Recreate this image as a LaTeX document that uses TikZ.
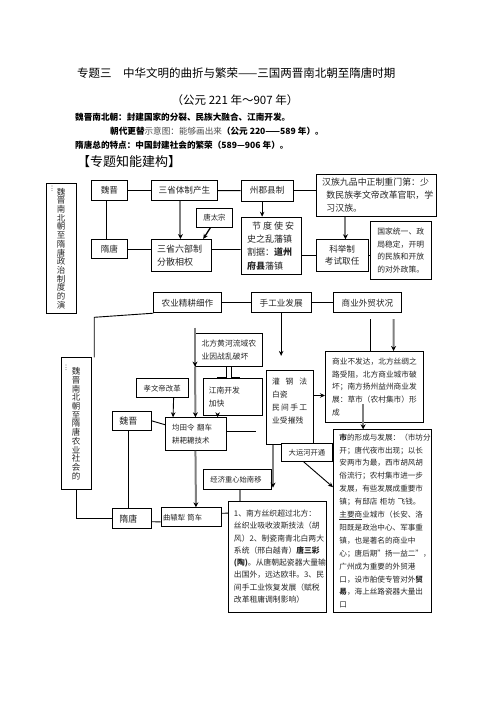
\documentclass[tikz,border=0pt]{standalone}
\usepackage{fontspec}
\setmainfont{Noto Sans CJK SC}
\usetikzlibrary{arrows.meta}

\begin{document}
\begin{tikzpicture}[x=1pt, y=-1pt,
    cadre/.style={draw, line width=0.9pt, fill=white, anchor=north west,
                  inner ysep=0pt, inner xsep=5pt, text=black!85},
    fleche/.style={-{Stealth[length=5pt,width=4.5pt]}, line width=0.9pt},
    fgris/.style={-{Stealth[length=5pt,width=5pt,color=black]}, draw=gray, line width=2pt},
    trait/.style={line width=0.9pt},
    titre/.style={anchor=west, inner sep=0pt}
]
    \useasboundingbox (0,0) rectangle (496,702);

    % en-tete
    \node[titre, font=\fontsize{11.5}{12}\selectfont] (titre) at (77,73) {专题三\quad 中华文明的曲折与繁荣——三国两晋南北朝至隋唐时期};
    \node[inner sep=0pt, font=\fontsize{11.5}{12}\selectfont] (dates) at (235,100) {（公元 221 年～907 年）};
    \node[titre, font=\fontsize{8.6}{9}\selectfont\bfseries] (ligneA) at (75,117) {魏晋南北朝：封建国家的分裂、民族大融合、江南开发。};
    \node[titre, font=\fontsize{8.6}{9}\selectfont] (ligneB) at (110,131) {{\bfseries 朝代更替}\textcolor{black!70}{示意图：能够画出来}{\bfseries （公元 220——589 年）。}};
    \node[titre, font=\fontsize{8.6}{9}\selectfont\bfseries] (ligneC) at (75,145) {隋唐总的特点：中国封建社会的繁荣（589—906 年）。};
    \node[titre, font=\fontsize{13}{14}\selectfont] (rubrique) at (77,162) {【专题知能建构】};

    % politique
    \node[cadre, minimum width=30pt, minimum height=130pt, inner xsep=0pt, align=center,
          font=\fontsize{8.5}{8.7}\selectfont] (zhengzhi) at (45.7,183)
          {魏\\晋\\南\\北\\朝\\至\\隋\\唐\\政\\治\\制\\度\\的\\演};
    \node[inner sep=0pt, font=\fontsize{7}{7}\selectfont] (pointsA) at (52,189) {︙};
    \node[cadre, minimum width=36.6pt, minimum height=20pt, font=\fontsize{8.6}{10}\selectfont] (weijinA) at (90.7,180) {魏晋};
    \node[cadre, minimum width=66.6pt, minimum height=20pt, font=\fontsize{8.6}{10}\selectfont] (sanshengA) at (150.7,180) {三省体制产生};
    \node[cadre, minimum width=52pt, minimum height=20.5pt, font=\fontsize{8.6}{10}\selectfont] (zhoujun) at (240.7,180) {州郡县制};
    \node[cadre, minimum height=42pt, text width=108pt, inner xsep=6pt, align=left,
          font=\fontsize{8.9}{12.9}\selectfont] (hanzu) at (315.7,174)
          {汉族九品中正制重门第：少\\\hspace*{4.3pt}数民族孝文帝改革官职，学\\\hspace*{4.3pt}习汉族。};
    \node[cadre, minimum width=36.6pt, minimum height=19pt, font=\fontsize{7.4}{8}\selectfont] (taizong) at (195.7,207.7) {唐太宗};
    \node[cadre, minimum width=36.6pt, minimum height=19.3pt, font=\fontsize{8.6}{10}\selectfont] (suitangA) at (90.7,239) {隋唐};
    \node[cadre, minimum height=32pt, text width=48pt, inner xsep=6pt, align=left,
          font=\fontsize{9}{12.7}\selectfont] (sanshengB) at (150.7,239) {三省六部制\\分散相权};
    \node[cadre, minimum height=57.3pt, text width=48pt, inner xsep=6pt, align=left,
          font=\fontsize{9}{13.3}\selectfont] (jiedushi) at (240.7,216.7)
          {\hspace*{5pt}节\hspace{2pt}度\hspace{2pt}使\hspace{2pt}安\\史之乱藩镇\\割据：{\bfseries 道州}\\{\bfseries 府县}藩镇};
    \node[cadre, minimum width=52pt, minimum height=31.7pt, align=center,
          font=\fontsize{8.6}{12}\selectfont] (keju) at (315.7,239.3) {科举制\\考试取任};
    \node[cadre, minimum height=58.3pt, text width=47pt, inner xsep=6.85pt, align=left,
          font=\fontsize{7.8}{12.4}\selectfont] (guojia) at (370,221)
          {国家统一、政\\局稳定，开明\\的民族和开放\\的对外政策。};

    \draw[trait] (weijinA) -- (sanshengA);
    \draw[trait] (sanshengA) -- (zhoujun);
    \draw[trait] (zhoujun.east) -- (zhoujun.east -| hanzu.west);
    \draw[trait] ([xshift=-3pt]weijinA.south) -- ([xshift=-3pt]suitangA.north);
    \draw[trait] (suitangA.east) -- (suitangA.east -| sanshengB.west);
    \draw[trait] ([yshift=6pt]sanshengB.east) -- ([yshift=-3.7pt]jiedushi.west);
    \draw[fgris] ([xshift=-4pt]sanshengA.south) -- ([xshift=-0.7pt]sanshengB.north);
    \draw[fleche, line width=1.3pt] ([xshift=-4pt]taizong.south) -- ([xshift=-8.4pt]sanshengB.north east);
    \draw[fleche] ([xshift=-5pt]zhoujun.south) -- ([xshift=-9pt]jiedushi.north);
    \draw[fgris] ([xshift=-30.7pt]hanzu.south) -- ([xshift=3.3pt]keju.north);
    \draw[trait] (keju.west) -- (keju.west -| jiedushi.east);
    \draw[trait] (keju.east) -- (keju.east -| guojia.west);

    % economie
    \node[cadre, minimum width=67.4pt, minimum height=20pt, font=\fontsize{8.6}{10}\selectfont] (nongye) at (153.3,292.3) {农业精耕细作};
    \node[cadre, minimum width=60pt, minimum height=20pt, font=\fontsize{8.6}{10}\selectfont] (shougong) at (250.7,292.3) {手工业发展};
    \node[cadre, minimum width=67.4pt, minimum height=20pt, font=\fontsize{8.6}{10}\selectfont] (shangyeA) at (333.3,292.3) {商业外贸状况};

    \node[cadre, minimum width=30pt, minimum height=131.7pt, inner xsep=0pt, align=center,
          font=\fontsize{8.5}{8.7}\selectfont] (nongshe) at (60.7,357.3)
          {魏\\晋\\南\\北\\朝\\至\\隋\\唐\\农\\业\\社\\会\\的};
    \node[inner sep=0pt, font=\fontsize{7}{7}\selectfont] (pointsB) at (66,368) {︙};

    % double fleche entre les deux cadres
    \draw[trait] (217.3,366.5) -- (226.7,366.5) -- (226.7,377.7) -- (217.3,377.7);
    \draw[trait] (240,366.5) -- (231.7,366.5) -- (231.7,377.7) -- (240,377.7);

    \node[cadre, minimum height=32.4pt, text width=55pt, inner xsep=6.15pt, align=left,
          font=\fontsize{7.8}{13}\selectfont] (beifang) at (195,333.3) {北方黄河流域农\\业因战乱破坏};
    \node[cadre, minimum width=52pt, minimum height=19pt, font=\fontsize{7.4}{8}\selectfont] (xiaowen) at (135.7,378.3) {孝文帝改革};
    \node[cadre, minimum height=36.7pt, text width=47.8pt, inner xsep=5.6pt, align=left,
          font=\fontsize{7.8}{13.4}\selectfont] (jiangnan) at (202.7,378.3) {江南开发\\加快};
    \node[cadre, minimum height=19.3pt, text width=25pt, inner xsep=6.7pt, align=left,
          font=\fontsize{9}{10}\selectfont] (weijinB) at (112.3,410.7) {魏晋};
    \node[cadre, minimum height=32.7pt, text width=47.6pt, inner xsep=6.4pt, align=left,
          font=\fontsize{7.5}{12.3}\selectfont] (juntian) at (165.3,417.3) {均田令 翻车\\耕耙耱技术};
    \node[cadre, minimum height=74pt, text width=35.6pt, inner xsep=6pt, align=left,
          font=\fontsize{7.8}{12.9}\selectfont] (guangang) at (265.7,370)
          {灌\hspace{5.8pt}钢\hspace{5.8pt}法\\白瓷\\民\hspace{1.3pt}间\hspace{1.3pt}手\hspace{1.3pt}工\\业受摧残\\\mbox{}};
    \node[cadre, minimum height=70.7pt, text width=85pt, inner xsep=6.65pt, align=left,
          font=\fontsize{7.7}{12.7}\selectfont] (shangyeB) at (325,351)
          {商业不发达，北方丝绸之\\路受阻，北方商业城市破\\坏；南方扬州益州商业发\\展：草市（农村集市）形\\成};
    \node[cadre, minimum height=182.4pt, text width=85.7pt, inner xsep=6pt, align=left,
          font=\fontsize{7.6}{12.9}\selectfont] (shi) at (333,429.3)
          {{\bfseries 市}的形成与发展：（市坊分\\开；唐代夜市出现；以长\\安两市为最，西市胡风胡\\俗流行；农村集市进一步\\发展，有些发展成重要市\\镇；有邸店 柜坊 飞钱。\\\underline{主要商}业城市（长安、洛\\阳既是政治中心、军事重\\镇，也是著名的商业中\\心；唐后期"扬一益二"，\\广州成为重要的外贸港\\口，设市舶使专管对外{\bfseries 贸}\\{\bfseries 易}，海上丝路瓷器大量出\\口};
    \node[cadre, minimum width=51pt, minimum height=18.3pt, font=\fontsize{7.3}{8}\selectfont] (yunhe) at (281,442.7) {大运河开通};
    \node[cadre, minimum height=20pt, text width=54pt, inner xsep=6.7pt, align=left,
          font=\fontsize{7.3}{8}\selectfont] (zhongxin) at (203.3,469.3) {经济重心始南移};
    \node[cadre, minimum height=20pt, text width=25pt, inner xsep=6.7pt, align=left,
          font=\fontsize{9}{10}\selectfont] (suitangB) at (112.3,508.3) {隋唐};
    \node[cadre, minimum height=19pt, text width=56pt, inner xsep=2pt, align=left,
          font=\fontsize{7.3}{8}\selectfont] (quyuan) at (160.7,507.3) {曲辕犁 筒车};
    \node[cadre, minimum height=111pt, text width=87pt, inner xsep=5.2pt, align=left,
          font=\fontsize{7.8}{12.25}\selectfont] (sizhi) at (228.3,500.7)
          {1、南方丝织超过北方：\\丝织业吸收波斯技法（胡\\风）2、制瓷南青北白两大\\系统（邢白越青）{\bfseries 唐三彩}\\{\bfseries (陶)}。从唐朝起瓷器大量输\\出国外，远达欧非。3、民\\间手工业恢复发展（赋税\\改革租庸调制影响）};

    \draw[trait] (nongye) -- (shougong);
    \draw[trait] (shougong) -- (shangyeA);
    \draw[trait] (nongye.south west) -- ([xshift=2.6pt,yshift=40pt]nongshe.north east) -- ([xshift=2.6pt]nongshe.north east);
    \draw[trait] (nongshe.south) |- (suitangB.west);
    \draw[trait] ([xshift=-4pt]weijinB.south) -- ([xshift=-4pt]suitangB.north);
    \draw[trait] ([yshift=-3pt]suitangB.east) -- ([yshift=-4.6pt]quyuan.west);
    \draw[trait] (weijinB.east) -- ([yshift=9.3pt]juntian.west);
    \draw[trait] ([yshift=2.6pt]juntian.east) -- ++(29.3,0);
    \draw[fleche] ([xshift=-15pt]xiaowen.south east) -- ([xshift=-22.9pt]juntian.north);
    \draw[fleche] ([xshift=-15pt]jiangnan.south) -- ([xshift=21.7pt]juntian.north);
    \draw[fgris] ([yshift=39pt]beifang.south west) -- (beifang.south west);
    \draw[fgris] (beifang.south west) -- ([xshift=-0.5pt]juntian.north);
    \draw[fgris] ([xshift=-0.5pt]juntian.south) -- ([xshift=4.8pt]quyuan.north);
    \draw[fleche] (shougong.south) -- ++(0,42.7);
    \draw[fleche] ([yshift=12pt]guangang.east) -- ([yshift=-8.7pt]shangyeB.west);
    \draw[fgris] ([xshift=-8pt,yshift=-6pt]shangyeA.south east) -- ([xshift=-30.6pt]shangyeB.north east);
    \draw[trait] ([xshift=3pt,yshift=-6pt]shangyeA.south) -- ([xshift=-4.15pt]shangyeB.north);
    \draw[fgris] ([xshift=-11.45pt,yshift=18.7pt]shangyeB.south) -- ([xshift=-19.15pt]shi.north);
    \draw[fleche] ([xshift=-3.2pt]yunhe.south) -- ([yshift=33.8pt]shi.west);
    \draw[fgris] ([xshift=7.3pt]guangang.south west) -- ++(0,42.7);
    \draw[fgris, -] ([xshift=3pt]zhongxin.south) -- ([xshift=-37pt]sizhi.north);
    \draw[trait] ([yshift=4pt]quyuan.east) -- ([yshift=43.5pt]sizhi.west);
\end{tikzpicture}
\end{document}
